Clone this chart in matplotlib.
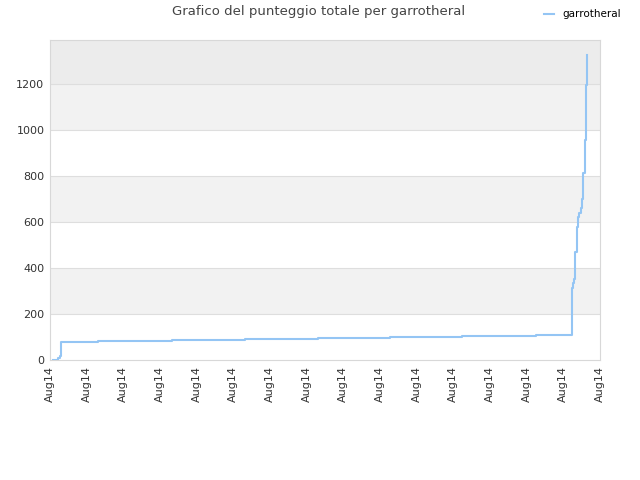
import matplotlib
matplotlib.use("Agg")
import matplotlib.pyplot as plt

# punteggio totale nel tempo (unità = passo tra le etichette dell'asse x)
tempo = [0.08, 0.22, 0.27, 0.30, 1.31, 3.33, 5.32, 7.31, 9.27, 11.24, 13.25,
         14.24, 14.27, 14.30, 14.33, 14.36, 14.40, 14.43, 14.47, 14.51, 14.54,
         14.58, 14.62, 14.65]
punteggio = [0, 10, 17, 80, 84, 87, 91, 96, 100, 104, 109,
             313, 335, 352, 471, 580, 623, 640, 660, 700, 813,
             957, 1196, 1326]
etichette_x = ["Aug14"] * 16
yticks = [0, 200, 400, 600, 800, 1000, 1200]

fig = plt.figure(figsize=(6.4, 4.8), dpi=100)
ax = fig.add_axes([0.078, 0.25, 0.8595, 0.6667])

ymax = 1391
bande = ["white", "#f2f2f2", "white", "#f2f2f2", "white", "#f2f2f2", "#ececec"]
for i, c in enumerate(bande):
    ax.axhspan(i * 200, min((i + 1) * 200, ymax), color=c, zorder=0, lw=0)
for y in yticks[1:]:
    ax.axhline(y, color="#dedede", lw=0.8, zorder=1)

ax.plot(tempo, punteggio, drawstyle="steps-post", color="#94c5f4", lw=1.5,
        label="garrotheral", zorder=3)

ax.set_xlim(0, 15)
ax.set_ylim(0, ymax)
ax.set_xticks(range(16))
ax.set_xticklabels(etichette_x, rotation=90, fontsize=8, color="#333333")
ax.set_yticks(yticks)
ax.set_yticklabels([str(v) for v in yticks], fontsize=8, color="#333333")
ax.tick_params(length=0, pad=4)
for s in ax.spines.values():
    s.set_color("#d8d8d8")

fig.text(0.497, 0.975, "Grafico del punteggio totale per garrotheral",
         ha="center", va="center", fontsize=9.5, color="#444444")
fig.legend(loc="upper right", bbox_to_anchor=(0.985, 1.0), frameon=False,
           fontsize=7.5, handlelength=1.0, handletextpad=0.8)

plt.savefig("out.png")
